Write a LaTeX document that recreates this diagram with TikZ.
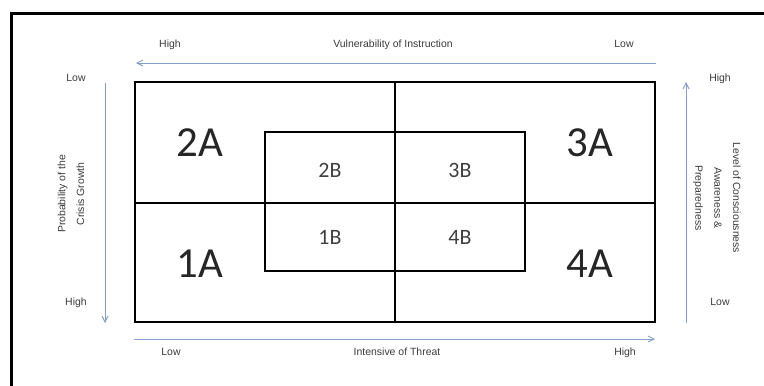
\documentclass[tikz,border=0pt]{standalone}
\usepackage{fontspec}
\setmainfont{Liberation Sans}
\newfontfamily\calfont{Carlito}
\usetikzlibrary{arrows.meta}
\definecolor{arrowblue}{RGB}{135,158,200}
\definecolor{txtgray}{RGB}{60,60,60}
\tikzset{
  lbl/.style={font=\fontsize{10.5}{12}\selectfont, text=txtgray, inner sep=0pt, text height=7.6bp, text depth=2bp},
  rotlbl/.style={font=\fontsize{10.5}{19}\selectfont, text=txtgray, inner sep=0pt, align=center},
  biglbl/.style={font=\calfont\fontsize{43}{43}\selectfont, text=black!85, inner sep=0pt},
  smalllbl/.style={font=\calfont\fontsize{22}{22}\selectfont, text=black!75, inner sep=0pt},
  axis/.style={draw=arrowblue, line width=0.9bp, -{Straight Barb[length=6bp,width=6bp]}},
  box/.style={draw=black, line width=2bp}
}
\begin{document}
\begin{tikzpicture}[x=1bp,y=-1bp]
\useasboundingbox (0,0) rectangle (764,385);
\fill[white] (0,0) rectangle (764,385);
\begin{scope}
\clip (0,0) rectangle (764,385);
\draw[line width=3bp] (11,13) rectangle (790,410);
\end{scope}
% main quadrants
\coordinate (tl) at (135,82);
\coordinate (br) at (655,322);
\coordinate (mt) at (395,82);
\coordinate (mb) at (395,322);
\coordinate (ml) at (135,203);
\coordinate (mr) at (655,203);
\draw[box] (tl) rectangle (br);
\draw[box] (mt) -- (mb);
\draw[box] (ml) -- (mr);
% inner rectangle
\coordinate (itl) at (265,132);
\coordinate (ibr) at (525,271);
\draw[box] (itl) rectangle (ibr);
% quadrant labels
\node[biglbl] (a2) at (200,143) {2A};
\node[biglbl] (a3) at (590,143) {3A};
\node[biglbl] (a1) at (200,264) {1A};
\node[biglbl] (a4) at (590,264) {4A};
\node[smalllbl] (b2) at (330,170) {2B};
\node[smalllbl] (b3) at (460,170) {3B};
\node[smalllbl] (b1) at (330,237) {1B};
\node[smalllbl] (b4) at (460,237) {4B};
% top axis
\coordinate (ts) at (656,63);
\coordinate (te) at (136,63);
\draw[axis] (ts) -- (te);
\node[lbl] (th) at (170,45) {High};
\node[lbl] (tt) at (393,45) {Vulnerability of Instruction};
\node[lbl] (tlw) at (624,45) {Low};
% bottom axis
\coordinate (bs) at (134,339);
\coordinate (be) at (655,339);
\draw[axis] (bs) -- (be);
\node[lbl] (bl) at (171,353) {Low};
\node[lbl] (bt) at (397,353) {Intensive of Threat};
\node[lbl] (bh) at (625,353) {High};
% left axis
\coordinate (ls) at (105,83);
\coordinate (le) at (105,323);
\draw[axis] (ls) -- (le);
\node[lbl] (ll) at (76,79) {Low};
\node[lbl] (lh) at (76,303) {High};
\node[rotlbl, rotate=90] (lt) at (71,194) {Probability of the\\Crisis Growth};
% right axis
\coordinate (rs) at (686,323);
\coordinate (re) at (686,82);
\draw[axis] (rs) -- (re);
\node[lbl] (rh) at (720,79) {High};
\node[lbl] (rl) at (720,303) {Low};
\node[rotlbl, rotate=-90] (rt) at (717,198) {Level of Consciousness\\Awareness \&\\Preparedness};
\end{tikzpicture}
\end{document}
